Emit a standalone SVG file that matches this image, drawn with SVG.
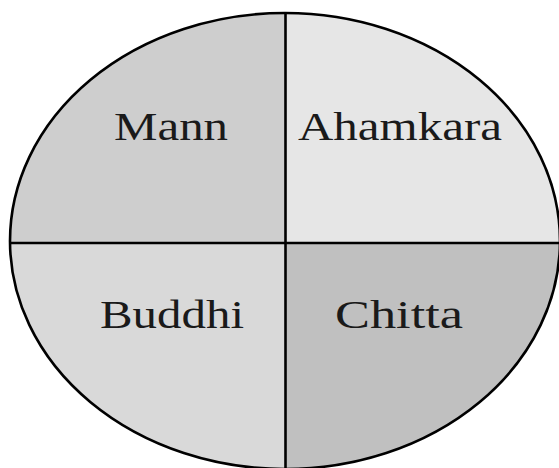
<svg xmlns="http://www.w3.org/2000/svg" width="559" height="468" viewBox="0 0 559 468">
  <style>
    .lbl { font-family: "Liberation Serif", "DejaVu Serif", serif; font-size: 41px; fill: #1a1a1a; }
    .line { stroke: #000; stroke-width: 2.6; fill: none; }
  </style>
  <defs>
    <clipPath id="oval">
      <ellipse cx="285" cy="241" rx="275" ry="228"/>
    </clipPath>
  </defs>
  <rect x="0" y="0" width="559" height="468" fill="#ffffff"/>
  <g clip-path="url(#oval)">
    <g id="mann">
      <rect x="0" y="0" width="285.5" height="243" fill="#cecece"/>
      <text class="lbl" x="114" y="140" textLength="114" lengthAdjust="spacingAndGlyphs">Mann</text>
    </g>
    <g id="ahamkara">
      <rect x="285.5" y="0" width="280" height="243" fill="#e6e6e6"/>
      <text class="lbl" x="298" y="140" textLength="204" lengthAdjust="spacingAndGlyphs">Ahamkara</text>
    </g>
    <g id="buddhi">
      <rect x="0" y="243" width="285.5" height="230" fill="#d9d9d9"/>
      <text class="lbl" x="100" y="328" textLength="144" lengthAdjust="spacingAndGlyphs">Buddhi</text>
    </g>
    <g id="chitta">
      <rect x="285.5" y="243" width="280" height="230" fill="#c0c0c0"/>
      <text class="lbl" x="335" y="328" textLength="128" lengthAdjust="spacingAndGlyphs">Chitta</text>
    </g>
  </g>
  <g id="connectors">
    <line class="line" x1="285.5" y1="13" x2="285.5" y2="470"/>
    <line class="line" x1="10" y1="243" x2="562" y2="243"/>
  </g>
  <ellipse class="line" cx="285" cy="241" rx="275" ry="228"/>
</svg>
